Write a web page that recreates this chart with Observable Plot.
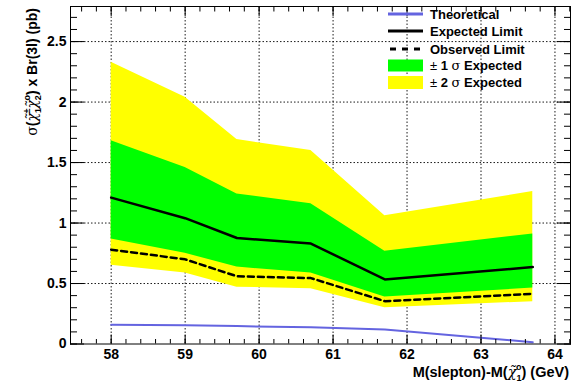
<!DOCTYPE html>
<html><head><meta charset="utf-8">
<script src="https://cdn.jsdelivr.net/npm/d3@7"></script>
<script src="https://cdn.jsdelivr.net/npm/@observablehq/plot@0.6"></script>
<style>body{margin:0;background:#fff} svg{display:block}</style>
</head><body><div id="chart"></div>
<script>
const mass = [58, 59, 59.7, 60.7, 61.7, 63.7];
const theoretical = [0.16, 0.155, 0.148, 0.138, 0.12, 0.015];
const expected = [1.21, 1.04, 0.876, 0.83, 0.534, 0.636];
const observed = [0.78, 0.70, 0.56, 0.545, 0.354, 0.415];
const sigma1Lo = [0.868, 0.75, 0.636, 0.586, 0.388, 0.462];
const sigma1Hi = [1.68, 1.46, 1.24, 1.16, 0.766, 0.91];
const sigma2Lo = [0.65, 0.586, 0.47, 0.457, 0.30, 0.35];
const sigma2Hi = [2.33, 2.04, 1.69, 1.60, 1.06, 1.26];
const xTicks = [58, 59, 60, 61, 62, 63, 64];
const xTickLabels = ["58", "59", "60", "61", "62", "63", "64"];
const yTicks = [0, 0.5, 1, 1.5, 2, 2.5];
const yTickLabels = ["0", "0.5", "1", "1.5", "2", "2.5"];
const legendLabels = ["Theoretical", "Expected Limit", "Observed Limit", "1", "2"];

const xMinor = d3.range(288, 322).map(i => i / 5);   // 57.6 ... 64.2 step 0.2
const yMinor = d3.range(0, 28).map(i => i / 10);      // 0 ... 2.7 step 0.1

const rows = mass.map((m, i) => ({
  m, th: theoretical[i], ex: expected[i], ob: observed[i],
  s1l: sigma1Lo[i], s1h: sigma1Hi[i], s2l: sigma2Lo[i], s2h: sigma2Hi[i]
}));

const font = "'Liberation Sans', Arial, Helvetica, sans-serif";
const serif = "'DejaVu Serif', serif";
const gridStyle = {stroke: "black", strokeOpacity: 1, strokeWidth: 0.9, strokeDasharray: "1.5,2"};

const chart = Plot.plot({
  width: 574, height: 387,
  marginLeft: 70, marginRight: 4, marginTop: 6, marginBottom: 43.5,
  style: {fontFamily: font, fontWeight: "bold", fontSize: "14px", background: "white", color: "black"},
  x: {domain: [57.45, 64.21]},
  y: {domain: [0, 2.79]},
  marks: [
    Plot.ruleX(xTicks, gridStyle),
    Plot.ruleY(yTicks.slice(1), gridStyle),
    Plot.areaY(rows, {x: "m", y1: "s2l", y2: "s2h", fill: "#ffff00"}),
    Plot.areaY(rows, {x: "m", y1: "s1l", y2: "s1h", fill: "#00ff00"}),
    Plot.lineY(rows, {x: "m", y: "th", stroke: "#6464e0", strokeWidth: 2}),
    Plot.lineY(rows, {x: "m", y: "ex", stroke: "black", strokeWidth: 2.5}),
    Plot.lineY(rows, {x: "m", y: "ob", stroke: "black", strokeWidth: 2.5, strokeDasharray: "6,4"}),
    // labels
    Plot.axisX({ticks: xTicks, tickSize: 0, tickPadding: 5, tickFormat: (d, i) => xTickLabels[i], label: null, fontSize: 14, fontWeight: "bold"}),
    Plot.axisY({ticks: yTicks, tickSize: 0, tickPadding: 4, tickFormat: (d, i) => yTickLabels[i], label: null, fontSize: 14, fontWeight: "bold"}),
    // inward ticks
    Plot.axisX({anchor: "bottom", ticks: xTicks, tickSize: -9, tickFormat: () => "", label: null}),
    Plot.axisX({anchor: "bottom", ticks: xMinor, tickSize: -4.5, tickFormat: () => "", label: null}),
    Plot.axisX({anchor: "top", ticks: xTicks, tickSize: -9, tickFormat: () => "", label: null}),
    Plot.axisX({anchor: "top", ticks: xMinor, tickSize: -4.5, tickFormat: () => "", label: null}),
    Plot.axisY({anchor: "left", ticks: yTicks, tickSize: -14, tickFormat: () => "", label: null}),
    Plot.axisY({anchor: "left", ticks: yMinor, tickSize: -7, tickFormat: () => "", label: null}),
    Plot.axisY({anchor: "right", ticks: yTicks, tickSize: -14, tickFormat: () => "", label: null}),
    Plot.axisY({anchor: "right", ticks: yMinor, tickSize: -7, tickFormat: () => "", label: null}),
    Plot.frame({stroke: "black", strokeWidth: 1})
  ]
});

const svg = d3.select(chart);

// stacked sub/superscript helper
function chiWithIndices(t, sub, sup) {
  t.append("tspan").attr("font-family", serif).attr("font-weight", "normal").attr("font-style", "italic").text("χ\u0303");
  t.append("tspan").attr("font-size", 9).attr("dy", 4).text(sub);
  t.append("tspan").attr("font-size", 9).attr("dx", -5.5).attr("dy", -11.5).text(sup);
}

// Y axis title
const yt = svg.append("text")
  .attr("transform", "translate(37,8) rotate(-90)")
  .attr("text-anchor", "end")
  .attr("font-family", font).attr("font-weight", "bold").attr("font-size", 14).attr("fill", "black");
yt.append("tspan").attr("font-family", serif).attr("font-weight", "normal").text("σ");
yt.append("tspan").text("(");
chiWithIndices(yt, "1", "±");
yt.append("tspan").attr("font-family", serif).attr("font-weight", "normal").attr("font-style", "italic").attr("dy", 7.5).text("χ\u0303");
yt.append("tspan").attr("font-size", 9).attr("dy", 4).text("2");
yt.append("tspan").attr("font-size", 9).attr("dx", -5.5).attr("dy", -11.5).text("o");
yt.append("tspan").attr("dy", 7.5).text(") x Br(3l) (pb)");

// X axis title
const xt = svg.append("text")
  .attr("x", 569).attr("y", 377)
  .attr("text-anchor", "end")
  .attr("font-family", font).attr("font-weight", "bold").attr("font-size", 14.5).attr("fill", "black");
xt.append("tspan").text("M(slepton)-M(");
chiWithIndices(xt, "1", "o");
xt.append("tspan").attr("dy", 7.5).text(") (GeV)");

// Legend
const lg = svg.append("g").attr("font-family", font).attr("font-weight", "bold").attr("font-size", 13).attr("fill", "black").attr("text-anchor", "start");
const ly = [14, 31, 49, 65.5, 82.5];
const sx0 = 388, sx1 = 423, tx = 430;
lg.append("line").attr("x1", sx0).attr("x2", sx1).attr("y1", ly[0]).attr("y2", ly[0]).attr("stroke", "#6464e0").attr("stroke-width", 3);
lg.append("line").attr("x1", sx0).attr("x2", sx1).attr("y1", ly[1]).attr("y2", ly[1]).attr("stroke", "black").attr("stroke-width", 3);
lg.append("line").attr("x1", sx0 + 2).attr("x2", sx1).attr("y1", ly[2]).attr("y2", ly[2]).attr("stroke", "black").attr("stroke-width", 3).attr("stroke-dasharray", "6,6");
lg.append("rect").attr("x", sx0).attr("y", ly[3] - 6).attr("width", sx1 - sx0).attr("height", 12).attr("fill", "#00ff00");
lg.append("rect").attr("x", sx0).attr("y", ly[4] - 6.5).attr("width", sx1 - sx0).attr("height", 13).attr("fill", "#ffff00");
[0, 1, 2].forEach(i => lg.append("text").attr("x", tx).attr("y", ly[i] + 4.5).text(legendLabels[i]));
[3, 4].forEach(i => {
  const t = lg.append("text").attr("x", tx).attr("y", ly[i] + 4.5);
  t.append("tspan").attr("font-weight", "normal").text("± ");
  t.append("tspan").text(legendLabels[i] + " ");
  t.append("tspan").attr("font-family", serif).attr("font-weight", "normal").text("σ");
  t.append("tspan").text(" Expected");
});

document.getElementById("chart").appendChild(chart);
</script>
</body></html>
